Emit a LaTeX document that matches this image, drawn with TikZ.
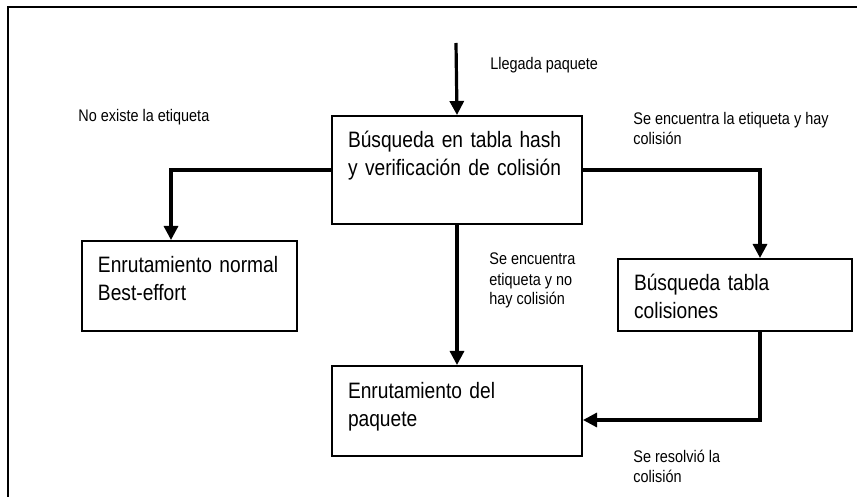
\documentclass[tikz,border=0pt]{standalone}
\usepackage{fontspec}
\setmainfont{Liberation Sans}[FakeStretch=0.86]
\usepackage{tikz}
\usetikzlibrary{arrows.meta}

\tikzset{
  caja/.style={draw, line width=1pt, anchor=north west,
    inner xsep=0pt, inner ysep=0pt, align=left, text height=16pt,
    font=\fontsize{11.15pt}{14pt}\selectfont,
    execute at begin node={\leftskip=8pt}},
  rotulo/.style={anchor=base west, align=left, inner sep=0pt,
    font=\fontsize{8.4pt}{10pt}\selectfont},
  flecha/.style={line width=1.6pt, -{Triangle[length=7pt,width=7pt]}}
}

\begin{document}
\begin{tikzpicture}[x=0.5pt, y=-0.5pt]
  \useasboundingbox (0,0) rectangle (857,497);
  \draw[line width=0.9pt] (8,497) -- (8,7) -- (857,7);

  \node[caja, text width=125pt, text depth=38pt] (hash) at (331,115)
    {Búsqueda en tabla hash\\y verificación de colisión};
  \node[caja, text width=107.5pt, text depth=29pt] (normal) at (81,240)
    {Enrutamiento normal\\Best-effort};
  \node[caja, text width=117pt, text depth=20pt] (colis) at (617,258)
    {Búsqueda tabla\\colisiones};
  \node[caja, text width=125pt, text depth=29pt] (paquete) at (331,365)
    {Enrutamiento del\\paquete};

  \coordinate (entrada) at (456,43);

  % base = last line
  \node[rotulo] (llegada) at (490,70) {Llegada paquete};
  \node[rotulo] (noexiste) at (78,122) {No existe la etiqueta};
  \node[rotulo] (haycol) at (633,145) {Se encuentra la etiqueta y hay\\colisión};
  \node[rotulo] (nocol) at (489,305) {Se encuentra\\etiqueta y no\\hay colisión};
  \node[rotulo] (resuelta) at (633,482) {Se resolvió la\\colisión};

  \draw[flecha] (entrada) -- (hash.north);
  \draw[flecha] (hash.west) -| ([xshift=45pt]normal.north west);
  \draw[flecha] (hash.east) -| ([xshift=71.5pt]colis.north west);
  \draw[flecha] (hash.south) -- (paquete.north);
  \draw[flecha] ([xshift=71.5pt]colis.south west) |- ([yshift=-4.5pt]paquete.east);
\end{tikzpicture}
\end{document}
